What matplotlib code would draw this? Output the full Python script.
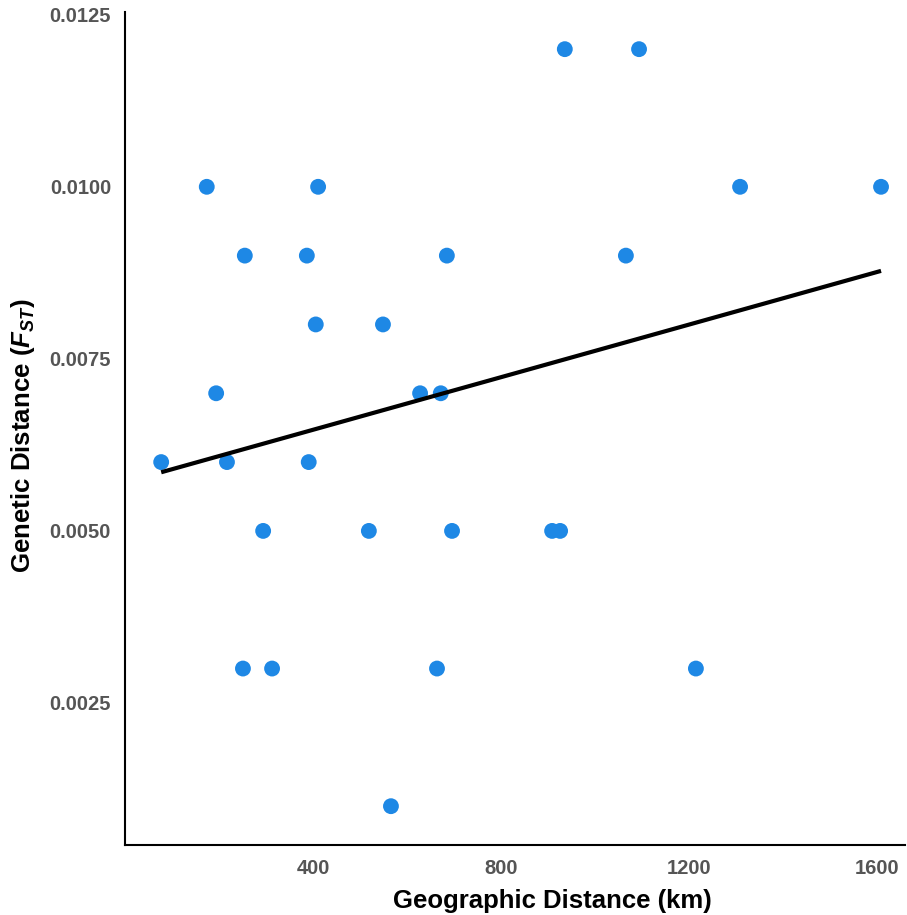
import numpy as np
import matplotlib
matplotlib.use("Agg")
import matplotlib.pyplot as plt

plt.rcParams['font.family'] = ['Liberation Sans', 'DejaVu Sans']
plt.rcParams['mathtext.fontset'] = 'custom'
plt.rcParams['mathtext.it'] = 'Liberation Sans:bold:italic'
plt.rcParams['mathtext.rm'] = 'Liberation Sans:bold'
plt.rcParams['mathtext.bf'] = 'Liberation Sans:bold'

# Pairwise geographic distance (km) and genetic distance (FST)
geo_km = [77, 174, 194, 217, 251, 255, 294, 313, 387, 391, 406, 411,
          519, 549, 566, 628, 664, 672, 685, 696, 909, 926, 936, 1066,
          1094, 1215, 1309, 1609]
fst = [0.006, 0.010, 0.007, 0.006, 0.003, 0.009, 0.005, 0.003, 0.009, 0.006,
       0.008, 0.010, 0.005, 0.008, 0.001, 0.007, 0.003, 0.007, 0.009, 0.005,
       0.005, 0.005, 0.012, 0.009, 0.012, 0.003, 0.010, 0.010]

x_ticks = [400, 800, 1200, 1600]
y_ticks = [0.0025, 0.0050, 0.0075, 0.0100, 0.0125]

x = np.array(geo_km, dtype=float)
y = np.array(fst, dtype=float)
slope, intercept = np.polyfit(x, y, 1)
xf = np.array([x.min(), x.max()])

fig = plt.figure(figsize=(9.07, 9.15), dpi=100)
ax = fig.add_axes([125/907, 70/915, 780/907, 833/915])

ax.scatter(x, y, s=130, color='#1E88E5', edgecolors='none', zorder=2)
ax.plot(xf, slope * xf + intercept, color='black', lw=3, zorder=3,
        solid_capstyle='butt')

ax.set_xlim(0, 1660)
ax.set_ylim(0.000436, 0.01254)
ax.set_xticks(x_ticks)
ax.set_xticklabels([str(v) for v in x_ticks])
ax.set_yticks(y_ticks)
ax.set_yticklabels([f"{v:.4f}" for v in y_ticks])
ax.tick_params(length=0, labelsize=14.5, labelcolor='#555555')
ax.tick_params(axis='y', pad=10)
ax.tick_params(axis='x', pad=10)
for lab in ax.get_xticklabels() + ax.get_yticklabels():
    lab.set_fontweight('bold')

for side in ('top', 'right'):
    ax.spines[side].set_visible(False)
for side in ('left', 'bottom'):
    ax.spines[side].set_linewidth(1.5)

ax.set_xlabel('Geographic Distance (km)', fontsize=18.5, fontweight='bold')
ax.xaxis.set_label_coords(0.548, -0.053, transform=ax.transAxes)
ax.xaxis.label.set_verticalalignment('top')
ax.set_ylabel(r'Genetic Distance ($F_{ST}$)', fontsize=18.6, fontweight='bold')
ax.yaxis.set_label_coords(-0.113, 0.492, transform=ax.transAxes)

fig.savefig('out.png', dpi=100)
